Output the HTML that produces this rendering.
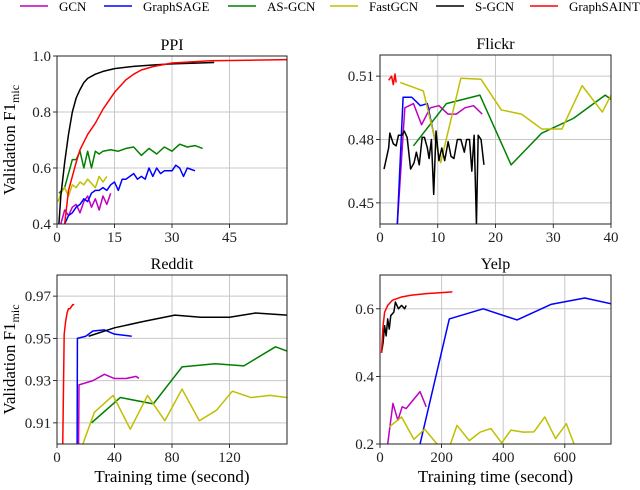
<!DOCTYPE html>
<html><head><meta charset="utf-8"><style>
body{margin:0;background:#fff}
svg{font-family:"Liberation Serif",serif}
</style></head><body>
<svg id="c" width="640" height="485" xmlns="http://www.w3.org/2000/svg"></svg>
<script>
const seriesNames=["GCN","GraphSAGE","AS-GCN","FastGCN","S-GCN","GraphSAINT"];
const seriesColors=["#c000c0","#0000ff","#008000","#bfbf00","#000000","#ff0000"];
// PPI
const ppiGCN=[[1,0.40],[2,0.45],[3,0.43],[4,0.46],[5,0.47],[6,0.44],[7,0.48],[8,0.50],[9,0.46],[10,0.49],[11,0.45],[12,0.50],[13,0.47],[14,0.51]];
const ppiSAGE=[[2,0.40],[3,0.43],[4,0.44],[5,0.46],[6,0.47],[7,0.49],[8,0.48],[9,0.51],[10,0.52],[11,0.52],[12,0.53],[13,0.52],[14,0.54],[15,0.55],[16,0.52],[17,0.56],[18,0.56],[19,0.57],[20,0.58],[21,0.56],[22,0.57],[23,0.56],[24,0.60],[25,0.57],[26,0.60],[27,0.58],[28,0.59],[30,0.59],[31,0.61],[32,0.60],[33,0.57],[34,0.60],[36,0.59]];
const ppiAS=[[0.5,0.51],[2,0.53],[3,0.58],[4,0.63],[5,0.63],[6,0.66],[7,0.60],[8,0.66],[9,0.60],[10,0.66],[11,0.65],[12,0.66],[14,0.665],[16,0.66],[18,0.67],[20,0.675],[22,0.645],[24,0.67],[26,0.65],[28,0.675],[30,0.66],[32,0.685],[34,0.675],[36,0.68],[38,0.67]];
const ppiFast=[[0.3,0.48],[1,0.51],[2,0.53],[3,0.50],[4,0.54],[5,0.53],[6,0.55],[7,0.54],[8,0.56],[9,0.545],[10,0.53],[11,0.57],[12,0.55],[13,0.57]];
const ppiS=[[0.5,0.40],[1,0.5],[2,0.62],[3,0.72],[4,0.80],[5,0.85],[6,0.88],[7,0.905],[8,0.92],[10,0.935],[12,0.945],[15,0.955],[20,0.963],[25,0.968],[30,0.972],[35,0.974],[41,0.977]];
const ppiSAINT=[[2,0.40],[3,0.52],[4,0.57],[5,0.62],[6,0.665],[8,0.72],[10,0.76],[12,0.81],[15,0.87],[18,0.915],[20,0.935],[22,0.95],[25,0.962],[30,0.975],[40,0.983],[50,0.985],[60,0.987]];
// Flickr
const flGCN=[[3,0.44],[4.3,0.495],[5.8,0.497],[7.2,0.487],[8.7,0.495],[10.2,0.496],[11.8,0.492],[13.2,0.492],[14.7,0.495],[16.2,0.496],[17.7,0.492]];
const flSAGE=[[3,0.44],[4,0.5],[5.5,0.5],[7,0.496],[8.2,0.497],[9.5,0.48]];
const flAS=[[5.8,0.477],[11.5,0.497],[17.3,0.501],[22.7,0.468],[28,0.483],[33.5,0.49],[39,0.501],[40,0.499]];
const flFast=[[3.5,0.507],[7.5,0.503],[10.5,0.469],[14,0.509],[17.5,0.5085],[21,0.494],[24.5,0.492],[28,0.485],[31.5,0.485],[35,0.5055],[38.5,0.493],[40,0.501]];
const flS=[[0.7,0.466],[1.5,0.476],[1.7,0.483],[2.3,0.478],[2.8,0.477],[3.2,0.482],[3.8,0.482],[4.2,0.484],[4.7,0.481],[5.3,0.466],[5.9,0.469],[6.3,0.474],[6.8,0.468],[7.3,0.481],[7.7,0.481],[8.2,0.476],[8.5,0.471],[8.9,0.48],[9.3,0.454],[9.7,0.484],[10.2,0.47],[10.7,0.476],[11.2,0.47],[11.8,0.479],[12.3,0.472],[12.8,0.471],[13.4,0.48],[14,0.48],[14.6,0.474],[15,0.48],[15.5,0.48],[15.9,0.465],[16.3,0.482],[16.7,0.44],[17,0.482],[17.5,0.48],[18,0.468]];
const flSAINT=[[1.5,0.508],[2,0.51],[2.3,0.506],[2.6,0.511],[2.8,0.507]];
// Reddit
const rdGCN=[[15,0.90],[15.3,0.928],[25,0.93],[33,0.933],[40,0.931],[48,0.931],[55,0.932],[57,0.931]];
const rdSAGE=[[14,0.90],[14.2,0.95],[20,0.951],[25,0.9535],[33,0.954],[40,0.952],[52,0.951]];
const rdAS=[[24,0.91],[44,0.922],[67,0.919],[87,0.9365],[110,0.938],[130,0.937],[152,0.946],[160,0.944]];
const rdFast=[[18,0.90],[26,0.915],[39,0.923],[51,0.907],[63,0.923],[75,0.911],[87,0.926],[99,0.911],[111,0.916],[122,0.925],[135,0.922],[148,0.923],[160,0.922]];
const rdS=[[22,0.951],[40,0.955],[60,0.958],[82,0.961],[100,0.96],[120,0.96],[138,0.962],[160,0.961]];
const rdSAINT=[[4,0.90],[5,0.952],[6,0.958],[7,0.962],[8,0.964],[9,0.964],[10,0.965],[11,0.966],[12,0.966]];
// Yelp
const ypGCN=[[25,0.2],[42,0.32],[58,0.27],[72,0.31],[85,0.305],[130,0.355],[150,0.31]];
const ypSAGE=[[130,0.2],[225,0.57],[335,0.6],[445,0.567],[555,0.613],[665,0.632],[750,0.615]];
const ypAS=[];
const ypFast=[[30,0.25],[70,0.28],[110,0.214],[145,0.244],[185,0.2],[225,0.19],[250,0.255],[290,0.21],[325,0.235],[360,0.246],[395,0.203],[425,0.241],[465,0.235],[500,0.236],[535,0.28],[570,0.216],[605,0.26],[630,0.2]];
const ypS=[[5,0.47],[10,0.5],[15,0.55],[20,0.52],[25,0.57],[30,0.54],[35,0.58],[45,0.59],[50,0.62],[60,0.6],[70,0.61],[80,0.6],[85,0.61]];
const ypSAINT=[[5,0.47],[10,0.55],[15,0.59],[25,0.61],[40,0.625],[70,0.635],[100,0.64],[150,0.645],[200,0.648],[235,0.65]];
// ticks
const ppiXTicks=[0,15,30,45], ppiYTicks=[0.4,0.6,0.8,1.0], ppiYLabels=["0.4","0.6","0.8","1.0"];
const flXTicks=[0,10,20,30,40], flYTicks=[0.45,0.48,0.51], flYLabels=["0.45","0.48","0.51"];
const rdXTicks=[0,40,80,120], rdYTicks=[0.91,0.93,0.95,0.97], rdYLabels=["0.91","0.93","0.95","0.97"];
const ypXTicks=[0,200,400,600], ypYTicks=[0.2,0.4,0.6], ypYLabels=["0.2","0.4","0.6"];

const NS="http://www.w3.org/2000/svg";
const svg=document.getElementById('c');
function mk(tag,attrs,parent){const e=document.createElementNS(NS,tag);for(const k in attrs)e.setAttribute(k,attrs[k]);(parent||svg).appendChild(e);return e;}

// legend
const legX=[20,104,228,330,436,530];
seriesNames.forEach((n,i)=>{
  const g=mk('g',{});
  
  
  mk('line',{x1:legX[i],x2:legX[i]+28,y1:6,y2:6,stroke:seriesColors[i],'stroke-width':1.5},g);
  const t=mk('text',{x:legX[i]+39,y:11,'font-size':13},g);t.textContent=n;
});

let clipId=0;
function panel(name,box,xr,yr,xt,yt,yl,title,series,showYLabel,showXLabel){
  const g=mk('g',{});
  
  
  const [L,T,R,B]=box;
  const sx=v=>L+(v-xr[0])/(xr[1]-xr[0])*(R-L);
  const sy=v=>B-(v-yr[0])/(yr[1]-yr[0])*(B-T);
  xt.forEach(v=>{
    mk('line',{x1:sx(v),x2:sx(v),y1:T,y2:B,stroke:'#c8c8c8','stroke-width':1},g);
    mk('line',{x1:sx(v),x2:sx(v),y1:B,y2:B+4,stroke:'#000','stroke-width':0.8},g);
    const t=mk('text',{x:sx(v),y:B+18,'font-size':15,'text-anchor':'middle',fill:'#222'},g);t.textContent=String(v);
  });
  yt.forEach((v,i)=>{
    mk('line',{x1:L,x2:R,y1:sy(v),y2:sy(v),stroke:'#c8c8c8','stroke-width':1},g);
    mk('line',{x1:L-4,x2:L,y1:sy(v),y2:sy(v),stroke:'#000','stroke-width':0.8},g);
    const t=mk('text',{x:L-6,y:sy(v)+5,'font-size':15,'text-anchor':'end',fill:'#222'},g);t.textContent=yl[i];
  });
  const id='clip'+(clipId++);
  const cp=mk('clipPath',{id:id},g);mk('rect',{x:L,y:T,width:R-L,height:B-T},cp);
  const sg=mk('g',{'clip-path':'url(#'+id+')'},g);
  series.forEach((s,i)=>{
    if(!s.length)return;
    const p=mk('polyline',{points:s.map(d=>sx(d[0])+','+sy(d[1])).join(' '),fill:'none',stroke:seriesColors[i],'stroke-width':1.5,'stroke-linejoin':'round'},sg);
    
    
  });
  mk('rect',{x:L,y:T,width:R-L,height:B-T,fill:'none',stroke:'#222','stroke-width':1},g);
  const tt=mk('text',{x:(L+R)/2,y:T-6,'font-size':16,'text-anchor':'middle'},g);tt.textContent=title;
  if(showYLabel){
    const yl2=mk('text',{transform:'translate('+(L-42)+','+((T+B)/2)+') rotate(-90)','font-size':17,'text-anchor':'middle'},g);
    
    
    yl2.innerHTML='Validation F1<tspan font-size="12" dy="4">mic</tspan>';
  }
  if(showXLabel){
    const xl=mk('text',{x:(L+R)/2,y:B+38,'font-size':17,'text-anchor':'middle'},g);
    
    
    xl.textContent='Training time (second)';
  }
}
panel('ppi',[57,56,287,224],[0,60],[0.4,1.0],ppiXTicks,ppiYTicks,ppiYLabels,'PPI',[ppiGCN,ppiSAGE,ppiAS,ppiFast,ppiS,ppiSAINT],true,false);
panel('flickr',[380,55,611,224],[0,40],[0.44,0.52],flXTicks,flYTicks,flYLabels,'Flickr',[flGCN,flSAGE,flAS,flFast,flS,flSAINT],false,false);
panel('reddit',[57,275,287,444],[0,160],[0.90,0.98],rdXTicks,rdYTicks,rdYLabels,'Reddit',[rdGCN,rdSAGE,rdAS,rdFast,rdS,rdSAINT],true,true);
panel('yelp',[380,275,611,444],[0,750],[0.2,0.7],ypXTicks,ypYTicks,ypYLabels,'Yelp',[ypGCN,ypSAGE,ypAS,ypFast,ypS,ypSAINT],false,true);
</script>
</body></html>
